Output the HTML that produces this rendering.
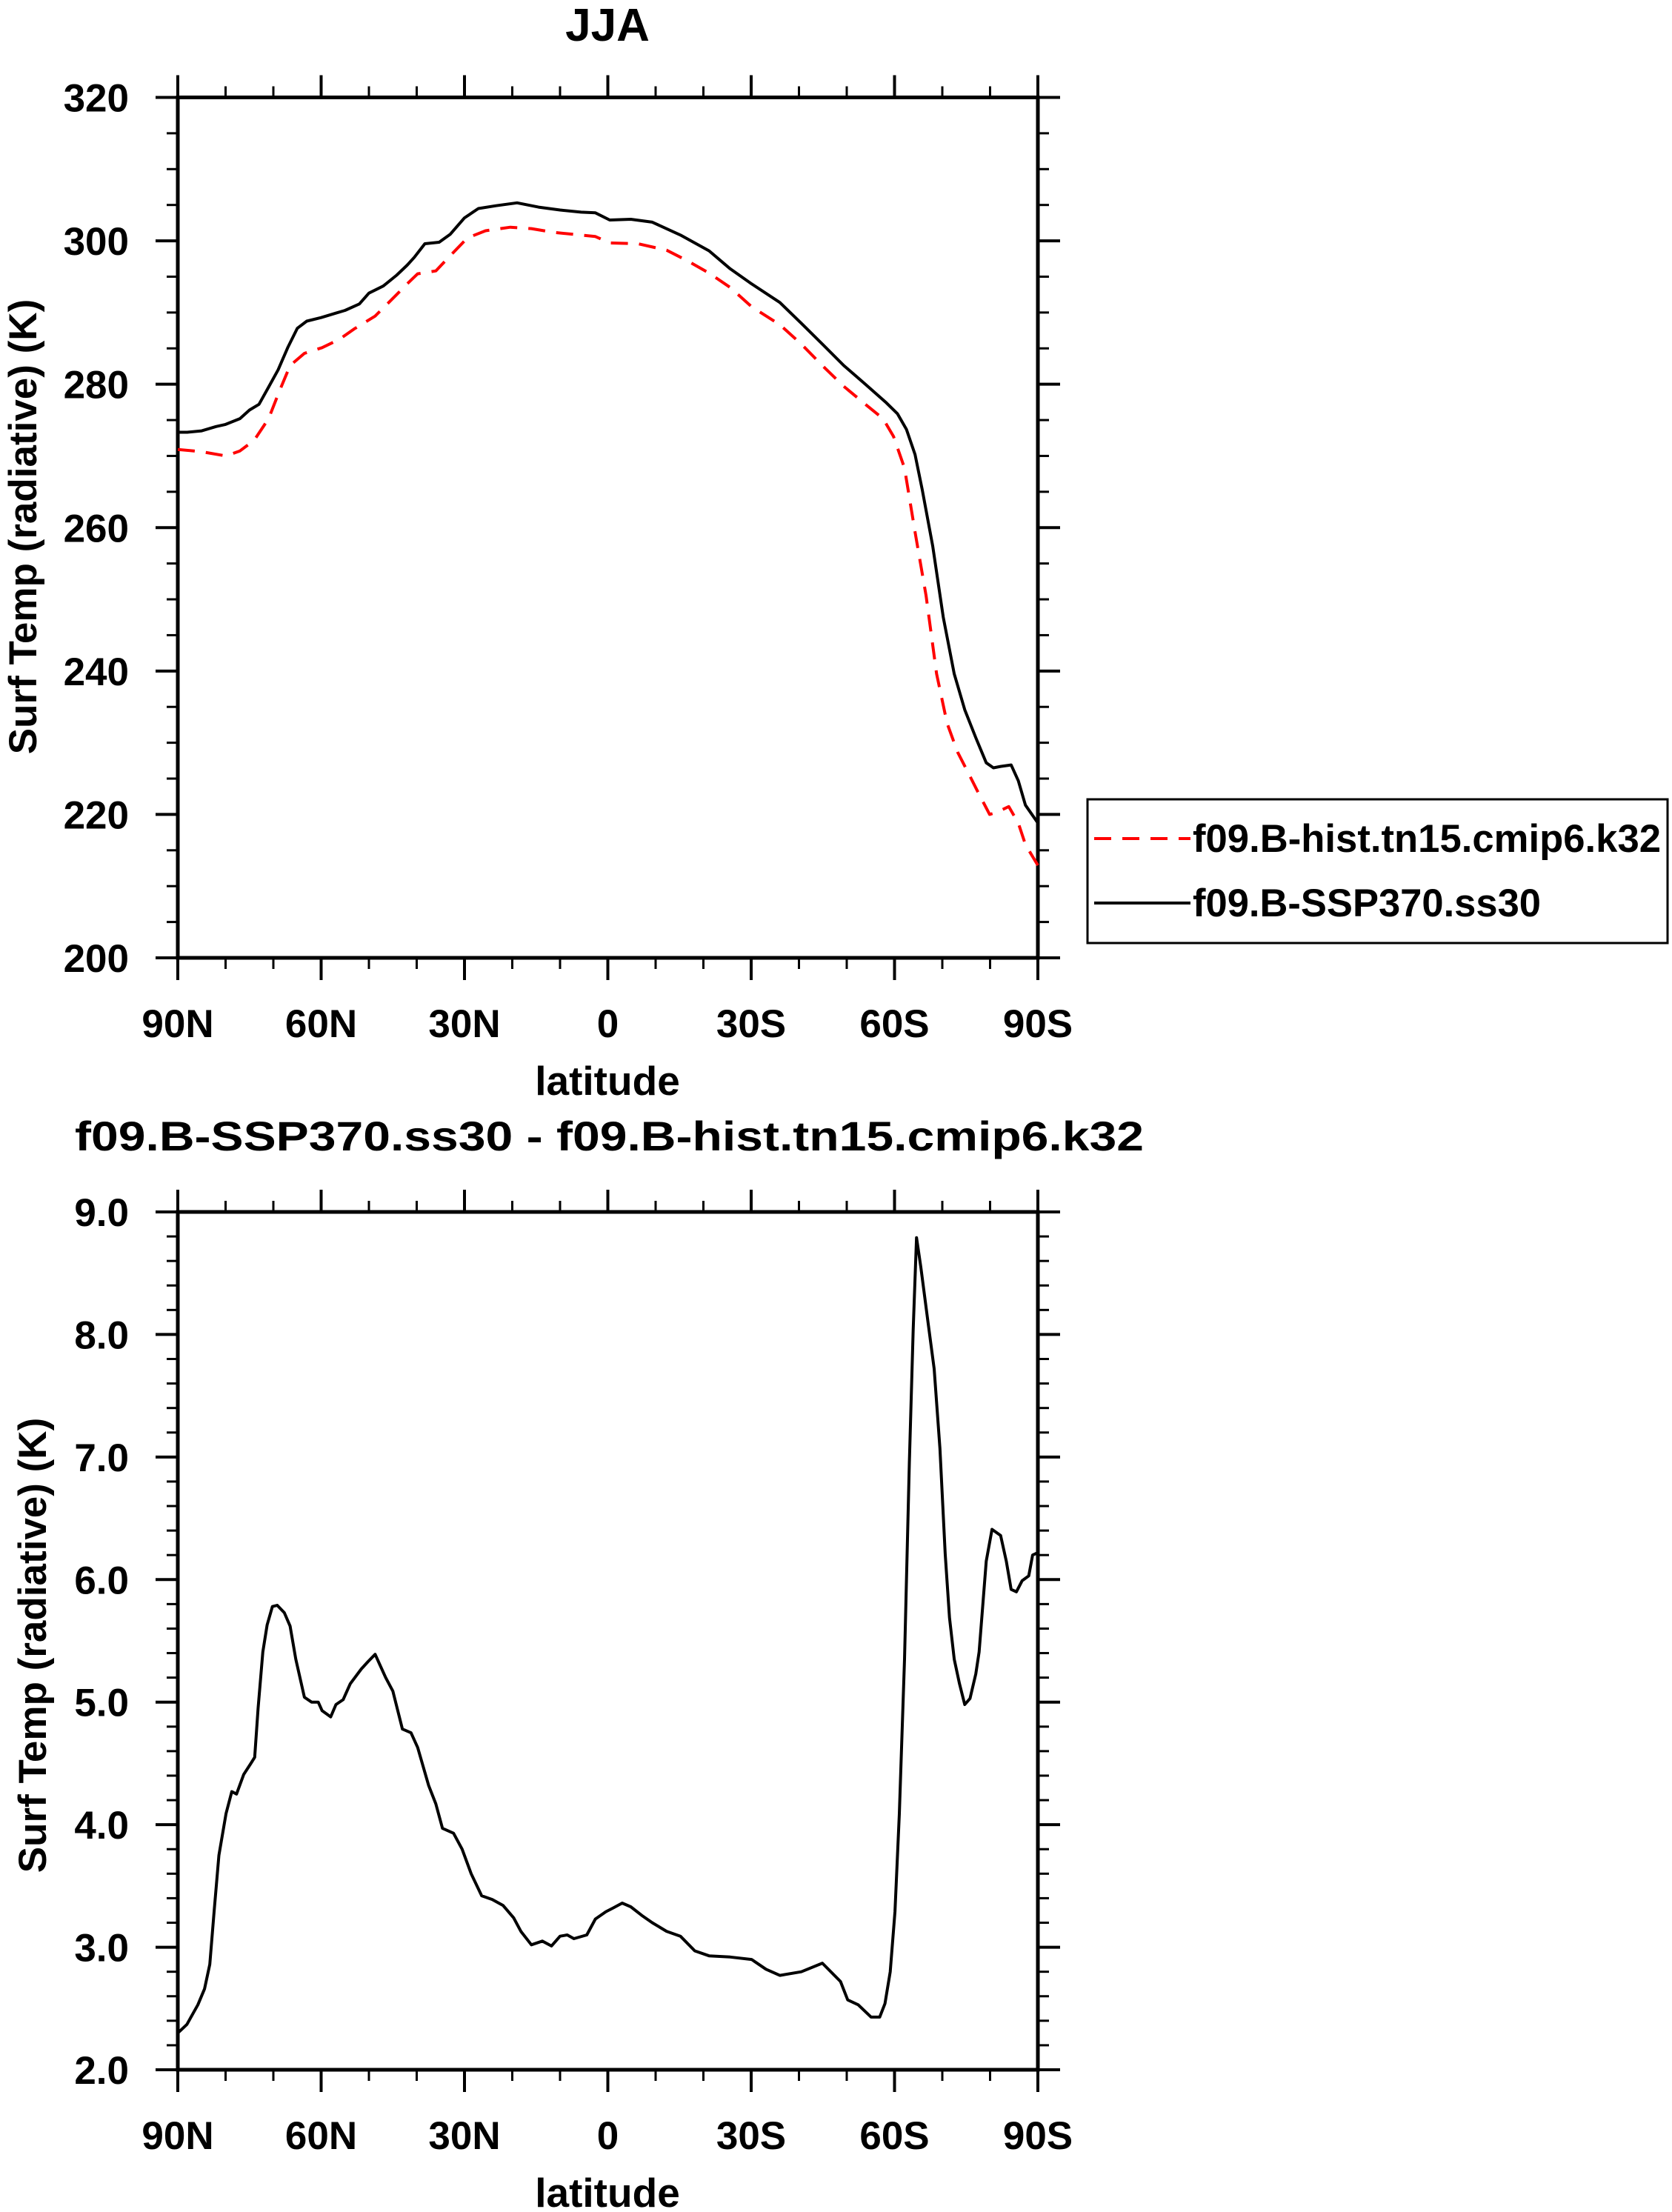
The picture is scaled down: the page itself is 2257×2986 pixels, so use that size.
<!DOCTYPE html>
<html><head><meta charset="utf-8"><style>html,body{margin:0;padding:0;background:#fff}svg{display:block}text{font-family:"Liberation Sans",sans-serif;font-weight:bold;fill:#000}</style></head>
<body>
<svg id="chart" width="2257" height="2986" viewBox="0 0 2257 2986" xmlns="http://www.w3.org/2000/svg">
<g id="topPanel"></g>
<g id="botPanel"></g>
<g id="legend">
<rect x="1468" y="1079" width="783" height="194" fill="none" stroke="#000" stroke-width="3"/>
<g>
<line x1="1477" y1="1132" x2="1607" y2="1132" stroke="#f00" stroke-width="4" stroke-dasharray="23 15"/>
<text x="1610" y="1150" font-size="53" textLength="632" lengthAdjust="spacingAndGlyphs">f09.B-hist.tn15.cmip6.k32</text>
</g>
<g>
<line x1="1477" y1="1219" x2="1607" y2="1219" stroke="#000" stroke-width="4"/>
<text x="1610" y="1237" font-size="53" textLength="470" lengthAdjust="spacingAndGlyphs">f09.B-SSP370.ss30</text>
</g>
</g>
</svg>
<script>
const xTickLats = [90,60,30,0,-30,-60,-90];
const xTickLabels = ["90N","60N","30N","0","30S","60S","90S"];
const topYTicks = [200,220,240,260,280,300,320];
const botYTicks = [2,3,4,5,6,7,8,9];
const botYTickLabels = ["2.0","3.0","4.0","5.0","6.0","7.0","8.0","9.0"];

const sspLat = [90,88,85,82,80,77,75,73,71,69,67,65,63,60,57,55,52,50,47,44.2,42,40.5,38.3,35.3,33,30,27.1,23.4,19,14.5,10,5.6,2.6,-0.4,-4.8,-9.3,-15.2,-21.2,-25.6,-30.1,-36,-40.5,-44.9,-49.4,-53.9,-58.3,-60.6,-62.5,-64.3,-65.8,-68,-70.2,-72.5,-74.7,-77,-79.2,-80.7,-82.2,-84.4,-85.9,-87.4,-90];
const sspVal = [273.3,273.3,273.5,274.1,274.4,275.2,276.4,277.2,279.6,282,285.1,287.8,288.8,289.3,289.9,290.3,291.2,292.7,293.7,295.2,296.6,297.7,299.6,299.8,300.9,303.2,304.5,304.9,305.3,304.7,304.3,304,303.9,302.9,303,302.6,300.8,298.6,296.1,294,291.4,288.5,285.6,282.6,280,277.4,275.9,273.7,270.2,265.3,257.4,247.5,239.6,234.6,230.7,227.2,226.5,226.7,226.9,224.7,221.3,218.8];

const histLat = [90,85.1,79.9,77,74,71,68.7,66.5,63.5,59.8,56.1,53.1,48.7,44.2,42,39.8,36,32.3,29.4,25.6,20.4,16,11.5,7.1,2.6,-0.4,-6.3,-12.3,-16.7,-21.2,-25.6,-30.1,-36,-40.5,-44.9,-49.4,-53.9,-57.6,-59.8,-62.1,-64.3,-66.6,-68.8,-71,-73.2,-75.5,-77.7,-79.9,-81.4,-83.9,-85.9,-87.4,-90];
const histVal = [270.9,270.6,270,270.7,272.2,275.2,279.1,282.6,284.3,285.1,286.3,287.7,289.5,292.5,294,295.4,295.8,298.4,300.4,301.4,301.9,301.7,301.2,300.9,300.6,299.7,299.6,298.7,297.2,295.5,293.5,290.8,288.3,285.6,282.6,279.7,277.2,275.2,272.7,268.3,259.4,250.5,239.6,232.7,228.7,225.7,222.8,220,220.3,221.1,218.8,215.8,212.9];

const diffLat = [90,88.1,85.8,84.4,83.3,82.4,81.4,79.9,78.7,77.7,76.2,74.7,73.9,73.2,72.2,71.3,70.2,69.2,67.7,66.5,65.3,63.5,62,60.6,59.8,58,56.9,55.4,53.9,51.6,50.2,48.7,46.5,45,43,41.2,39.8,37.5,36,34.6,32.3,30.5,28.6,26.4,24.2,21.9,19.7,18.2,16,13.7,11.8,10,8.5,7.1,4.4,2.6,0.4,-1.1,-3,-4.8,-7.1,-9.3,-12.3,-15.2,-18.2,-21.2,-25.6,-30.1,-33.1,-36,-40.5,-44.9,-48.7,-50.2,-52.4,-55.1,-56.9,-58,-59.1,-60.1,-61,-62.1,-63.1,-63.9,-64.6,-65.5,-67,-68.3,-69.5,-70.6,-71.5,-72.5,-73.6,-74.7,-75.8,-77,-77.7,-79.2,-80.4,-82.2,-83.4,-84.4,-85.5,-86.7,-88.1,-88.9,-90];
const diffVal = [2.30,2.37,2.53,2.66,2.86,3.29,3.75,4.09,4.27,4.25,4.41,4.50,4.55,4.95,5.41,5.63,5.78,5.79,5.73,5.62,5.35,5.04,5.00,5.00,4.93,4.88,4.98,5.02,5.15,5.27,5.33,5.39,5.20,5.09,4.78,4.75,4.63,4.32,4.17,3.97,3.93,3.80,3.60,3.42,3.39,3.34,3.24,3.13,3.02,3.05,3.01,3.09,3.10,3.07,3.10,3.23,3.29,3.32,3.36,3.33,3.26,3.20,3.13,3.09,2.97,2.93,2.92,2.90,2.82,2.77,2.80,2.87,2.72,2.57,2.53,2.43,2.43,2.54,2.80,3.29,4.09,5.35,6.95,8.04,8.79,8.55,8.10,7.72,7.07,6.21,5.69,5.35,5.15,4.98,5.03,5.23,5.41,6.15,6.41,6.36,6.15,5.92,5.90,5.99,6.03,6.20,6.22];

const NS='http://www.w3.org/2000/svg';
const X0=240, X1=1401;
function xScale(lat){return X0+(90-lat)/180*(X1-X0);}
function mk(tag,attrs,parent){const e=document.createElementNS(NS,tag);for(const k in attrs)e.setAttribute(k,attrs[k]);parent.appendChild(e);return e;}

function panel(g,yTop,yBot,vMin,vMax,yTicks,yLabels,minorStep,name){
  const yS=v=>yBot-(v-vMin)/(vMax-vMin)*(yBot-yTop);
  const nMinor=Math.round((vMax-vMin)/minorStep);
  for(let k=0;k<=nMinor;k++){
    const y=yS(vMin+k*minorStep);
    const t1=mk('line',{x1:X0-15,x2:X0,y1:y,y2:y,stroke:'#000','stroke-width':3},g);
    
    
    const t2=mk('line',{x1:X1,x2:X1+15,y1:y,y2:y,stroke:'#000','stroke-width':3},g);
    
    
  }
  for(let lat=90;lat>=-90;lat-=10){
    const x=xScale(lat);
    const t1=mk('line',{x1:x,x2:x,y1:yBot,y2:yBot+15,stroke:'#000','stroke-width':3},g);
    
    
    const t2=mk('line',{x1:x,x2:x,y1:yTop-15,y2:yTop,stroke:'#000','stroke-width':3},g);
    
    
  }
  yTicks.forEach((v,i)=>{
    const y=yS(v);
    const t=mk('line',{x1:X0-30,x2:X0,y1:y,y2:y,stroke:'#000','stroke-width':4},g);
    
    
    const t2=mk('line',{x1:X1,x2:X1+30,y1:y,y2:y,stroke:'#000','stroke-width':4},g);
    
    
    const l=mk('text',{x:174,y:y+19,'font-size':53,'text-anchor':'end'},g);
    l.textContent=yLabels[i];
    
    
  });
  xTickLats.forEach((lat,i)=>{
    const x=xScale(lat);
    const t=mk('line',{x1:x,x2:x,y1:yBot,y2:yBot+30,stroke:'#000','stroke-width':4},g);
    
    
    const t2=mk('line',{x1:x,x2:x,y1:yTop-30,y2:yTop,stroke:'#000','stroke-width':4},g);
    
    
    const l=mk('text',{x:x,y:yBot+107,'font-size':53,'text-anchor':'middle'},g);
    l.textContent=xTickLabels[i];
    
    
  });
  const f=mk('rect',{x:X0,y:yTop,width:X1-X0,height:yBot-yTop,fill:'none',stroke:'#000','stroke-width':5},g);
  
  
  const xt=mk('text',{x:820,y:yBot+185,'font-size':55,'text-anchor':'middle'},g);
  xt.textContent='latitude';
  
  
  return yS;
}
function series(g,lats,vals,yS,color,dash,name){
  const d=lats.map((lat,i)=>(i?'L':'M')+xScale(lat).toFixed(1)+','+yS(vals[i]).toFixed(1)).join(' ');
  const attrs={d:d,fill:'none',stroke:color,'stroke-width':4,'stroke-linejoin':'round'};
  if(dash)attrs['stroke-dasharray']=dash;
  const p=mk('path',attrs,g);
  
  
}
const topG=document.getElementById('topPanel');
const yT=panel(topG,131.5,1293,200,320,topYTicks,topYTicks.map(String),5,'top');
series(topG,histLat,histVal,yT,'#f00','23 15','line-hist');
series(topG,sspLat,sspVal,yT,'#000',null,'line-ssp370');
const t1=mk('text',{x:820,y:55,'font-size':62,'text-anchor':'middle'},topG);
t1.textContent='JJA';


const y1=mk('text',{x:0,y:0,'font-size':53,'text-anchor':'middle',transform:'translate(49,711) rotate(-90)'},topG);
y1.textContent='Surf Temp (radiative) (K)';



const botG=document.getElementById('botPanel');
const yB=panel(botG,1636,2794,2,9,botYTicks,botYTickLabels,0.2,'bottom');
series(botG,diffLat,diffVal,yB,'#000',null,'line-difference');
const t2=mk('text',{x:101,y:1553,'font-size':56,textLength:1443,lengthAdjust:'spacingAndGlyphs'},botG);
t2.textContent='f09.B-SSP370.ss30 - f09.B-hist.tn15.cmip6.k32';


const y2=mk('text',{x:0,y:0,'font-size':53,'text-anchor':'middle',transform:'translate(62,2221) rotate(-90)'},botG);
y2.textContent='Surf Temp (radiative) (K)';


</script>
</body></html>
